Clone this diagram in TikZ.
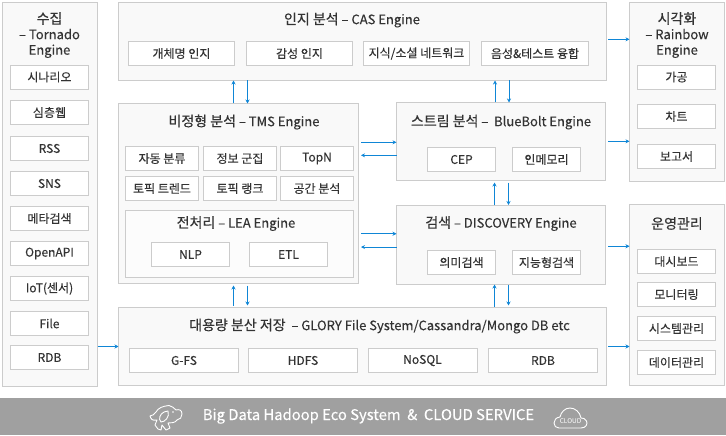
\documentclass[tikz,border=0pt]{standalone}
\usepackage{fontspec}
\setmainfont[FakeBold=0.25]{Noto Sans CJK KR}
\newfontfamily\headfont[FakeBold=0.5]{Noto Sans CJK KR}
\newfontfamily\iconfont{Noto Sans CJK KR}
\usepackage{xcolor}
\usetikzlibrary{calc,arrows.meta}
\definecolor{ink}{HTML}{333333}
\definecolor{edge}{HTML}{CCCCCC}
\definecolor{pane}{HTML}{F9F9F9}
\definecolor{wire}{HTML}{0F86D6}
\definecolor{band}{HTML}{A0A0A0}
\tikzset{
  panel/.style={draw=edge, fill=pane, line width=0.9pt, inner sep=0pt, outer sep=0pt, anchor=north west},
  item/.style={draw=edge, fill=white, line width=0.9pt, inner sep=0pt, outer sep=0pt, minimum height=24pt, text=ink, font=\fontsize{12}{14}\selectfont},
  ttl/.style={text=ink, inner sep=0pt, align=center, font=\fontsize{13}{15.5}\selectfont},
  flow/.style={draw=wire, line width=0.9pt, -{Stealth[length=4pt,width=4pt]}},
  icon/.style={draw=white, line width=0.9pt, line join=round, line cap=round},
}
\newcommand{\kor}[1]{{\headfont\fontsize{14}{15.5}\selectfont #1}}
\begin{document}
\begin{tikzpicture}[x=1pt,y=-1pt]
  \useasboundingbox (0,0) rectangle (726,436);
  \fill[band] (0,398) rectangle (726,435);

  % panels
  \node[panel, minimum width=95pt, minimum height=383.5pt] (collect) at (2.5,2.5) {};
  \node[panel, minimum width=488pt, minimum height=78pt] (cas) at (118.5,2.5) {};
  \node[panel, minimum width=240pt, minimum height=180pt] (tms) at (118.5,103.5) {};
  \node[panel, minimum width=209pt, minimum height=78pt] (stream) at (396.5,102.5) {};
  \node[panel, minimum width=209pt, minimum height=79.5pt] (search) at (396.5,205) {};
  \node[panel, minimum width=488pt, minimum height=78pt] (store) at (118.5,307.5) {};
  \node[panel, minimum width=95pt, minimum height=179pt] (vis) at (629.5,2.5) {};
  \node[panel, minimum width=95pt, minimum height=181pt] (ops) at (629.5,204.5) {};
  \node[panel, fill=white!50!pane, minimum width=228pt, minimum height=67pt] (lea) at (125.5,210.5) {};

  % titles
  \node[ttl] (collectT) at (49.5,35) {\kor{수집}\\– Tornado\\Engine};
  \node[ttl] (casT) at (352,20) {\kor{인지 분석} – CAS Engine};
  \node[ttl] (tmsT) at (244,122) {\kor{비정형 분석} – TMS Engine};
  \node[ttl] (leaT) at (236,223.5) {\kor{전처리} – LEA Engine};
  \node[ttl] (streamT) at (501,122) {\kor{스트림 분석} –\ \ BlueBolt Engine};
  \node[ttl] (searchT) at (501,223.5) {\kor{검색} – DISCOVERY Engine};
  \node[ttl] (storeT) at (379.5,326) {\kor{대용량 분산 저장}\ \ – GLORY File System/Cassandra/Mongo DB etc};
  \node[ttl] (visT) at (677,35) {\kor{시각화}\\– Rainbow\\Engine};
  \node[ttl] (opsT) at (677,223.5) {\kor{운영관리}};

  % source list
  \foreach \i/\cy/\t in {a/77/시나리오,b/112.5/심층웹,c/148.5/RSS,d/183.5/SNS,e/218.5/메타검색,f/253.5/OpenAPI,g/288.5/IoT(센서),h/323.5/File,i/357.5/RDB}
    \node[item, minimum width=78pt] (src\i) at (49.5,\cy) {\t};

  % cas items
  \node[item, minimum width=106pt] (casA) at (181.5,53.5) {개체명 인지};
  \node[item, minimum width=106pt] (casB) at (299.5,53.5) {감성 인지};
  \node[item, minimum width=106.5pt] (casC) at (416.5,53.5) {지식/소셜 네트워크};
  \node[item, minimum width=107pt] (casD) at (535,53.5) {음성\&테스트 융합};

  % tms items
  \foreach \i/\cx/\cy/\t in {a/162/158.5/자동 분류,b/240/158.5/정보 군집,c/317/158.5/TopN,d/162/188.5/토픽 트렌드,e/240/188.5/토픽 랭크,f/317/188.5/공간 분석}
    \node[item, minimum width=73pt] (tms\i) at (\cx,\cy) {\t};
  \node[item, minimum width=78pt] (nlp) at (190.5,254.5) {NLP};
  \node[item, minimum width=78pt] (etl) at (288.5,254.5) {ETL};

  % stream and search items
  \node[item, minimum width=68pt] (cep) at (461.5,159.5) {CEP};
  \node[item, minimum width=68pt] (mem) at (546.5,159.5) {인메모리};
  \node[item, minimum width=68pt] (sem) at (461.5,262.5) {의미검색};
  \node[item, minimum width=68pt] (smart) at (546.5,262.5) {지능형검색};

  % storage items
  \node[item, minimum width=109pt] (gfs) at (184,360.5) {G-FS};
  \node[item, minimum width=109pt] (hdfs) at (303,360.5) {HDFS};
  \node[item, minimum width=109pt] (nosql) at (422.5,360.5) {NoSQL};
  \node[item, minimum width=109pt] (rdb) at (543,360.5) {RDB};

  % right columns
  \node[item, minimum width=78pt] (visA) at (676.5,77) {가공};
  \node[item, minimum width=78pt] (visB) at (676.5,116.5) {차트};
  \node[item, minimum width=78pt] (visC) at (676.5,156.5) {보고서};
  \node[item, minimum width=78pt] (opsA) at (676.5,261.5) {대시보드};
  \node[item, minimum width=78pt] (opsB) at (676.5,294.5) {모니터링};
  \node[item, minimum width=78pt] (opsC) at (676.5,328.5) {시스템관리};
  \node[item, minimum width=78pt] (opsD) at (676.5,362.5) {데이터관리};

  % vertical arrows
  \draw[flow] ([xshift=-5pt]tms.north) -- ([xshift=-5pt]tms.north |- cas.south);
  \draw[flow] ([xshift=9pt]tms.north |- cas.south) -- ([xshift=9pt]tms.north);
  \draw[flow] ([xshift=-6pt]stream.north) -- ([xshift=-6pt]stream.north |- cas.south);
  \draw[flow] ([xshift=8pt]stream.north |- cas.south) -- ([xshift=8pt]stream.north);
  \draw[flow, shorten >=2pt] ([xshift=-6.5pt]search.north) -- ([xshift=-6.5pt]search.north |- stream.south);
  \draw[flow, shorten <=2pt] ([xshift=7.5pt]search.north |- stream.south) -- ([xshift=7.5pt]search.north);
  \draw[flow, shorten >=2pt, shorten <=2pt] ([xshift=-5pt]store.north -| tms.north) -- ([xshift=-5pt]tms.south);
  \draw[flow, shorten >=2pt, shorten <=2pt] ([xshift=9pt]tms.south) -- ([xshift=9pt]store.north -| tms.north);
  \draw[flow, shorten >=0pt, shorten <=1pt] ([xshift=-6.5pt]store.north -| search.north) -- ([xshift=-6.5pt]search.south);
  \draw[flow, shorten >=2pt, shorten <=0pt] ([xshift=7.5pt]search.south) -- ([xshift=7.5pt]store.north -| search.south);

  % horizontal arrows
  \draw[flow, shorten <=2.5pt] ([yshift=-0.8pt]tms.east |- stream.west) -- ([yshift=-0.8pt]stream.west);
  \draw[flow, shorten >=2.5pt] ([yshift=-13.8pt]stream.west) -- ([yshift=-13.8pt]stream.west -| tms.east);
  \draw[flow, shorten <=2.5pt] ([yshift=11pt]tms.east |- search.west) -- ([yshift=11pt]search.west);
  \draw[flow, shorten >=2.5pt] ([yshift=-2.3pt]search.west) -- ([yshift=-2.3pt]search.west -| tms.east);
  \draw[flow, shorten <=1.5pt] ([yshift=2.2pt]cas.east) -- ([yshift=2.2pt]cas.east -| vis.west);
  \draw[flow, shorten <=2.5pt] ([yshift=0.2pt]stream.east) -- ([yshift=0.2pt]stream.east -| vis.west);
  \draw[flow, shorten <=2.5pt] ([yshift=-1.5pt]search.east) -- ([yshift=-1.5pt]search.east -| ops.west);
  \draw[flow, shorten <=1.5pt] (store.east) -- (store.east -| ops.west);
  \draw[flow] (store.west -| collect.east) -- (store.west);

  % bottom band
  \node[text=white, inner sep=0pt, font=\fontsize{14.8}{16}\selectfont] (banner) at (368.5,416) {Big Data Hadoop Eco System\ \ \&\ \ CLOUD SERVICE};

  % elephant
  \draw[icon] (158,429) -- (155,425) -- (157,420) .. controls (152,421) and (151,419) .. (150,416)
    .. controls (153,416) and (154,414) .. (156,412) .. controls (158,408) and (163,406) .. (169,405.5)
    .. controls (172,406) and (174,408) .. (176,410) .. controls (179,409) and (182,410) .. (182,414)
    .. controls (182,417) and (180,420) .. (177,420) .. controls (175,423) and (171,423) .. (168,423)
    -- (170,428) -- (166,430) -- (162,425) -- (161,430) -- cycle;
  \draw[icon] (164,412) .. controls (160,414) and (158,419) .. (161,422) .. controls (165,422) and (170,417) .. (168,411) -- cycle;
  \fill[white] (173,412) circle (0.8);

  % cloud
  \draw[icon] (559,428) -- (581,428) .. controls (586,428) and (588,424) .. (586.5,421)
    .. controls (585.5,418.5) and (583,418) .. (581,418) .. controls (580,412) and (575,408) .. (570,408)
    .. controls (565,408) and (561,412) .. (560,417) .. controls (556,417.5) and (554,420) .. (554,423)
    .. controls (554,426) and (556,428) .. (559,428) -- cycle;
  \node[text=white, inner sep=0pt, font=\iconfont\fontsize{6.5}{7}\selectfont] (cloudT) at (570.5,421.5) {CLOUD};
\end{tikzpicture}
\end{document}
